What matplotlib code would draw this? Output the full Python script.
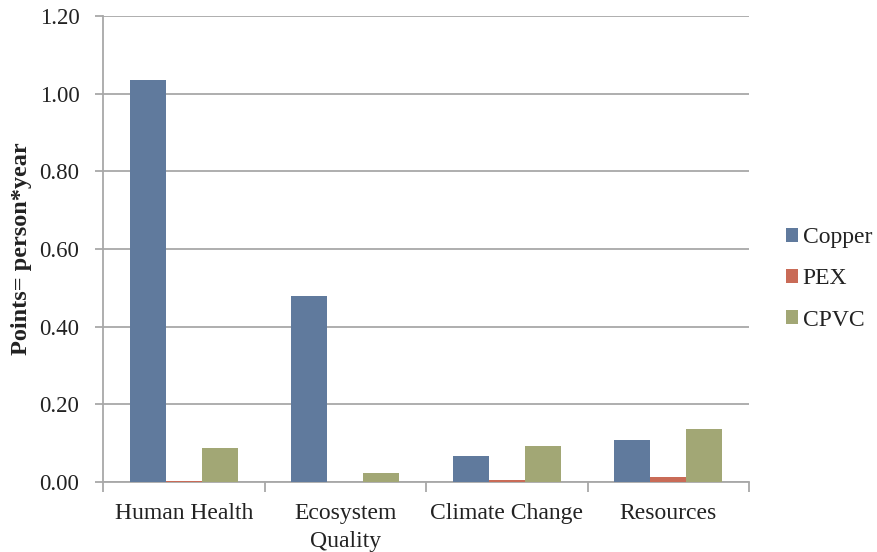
import numpy as np
import matplotlib
matplotlib.use('Agg')
import matplotlib.pyplot as plt

categories = ['Human Health', 'Ecosystem\nQuality', 'Climate Change', 'Resources']
series = ['Copper', 'PEX', 'CPVC']
copper = [1.035, 0.478, 0.067, 0.107]
pex = [0.003, 0.001, 0.005, 0.012]
cpvc = [0.087, 0.023, 0.092, 0.136]
colors = ['#607A9D', '#C96B57', '#A2A775']
yticks = [0.0, 0.2, 0.4, 0.6, 0.8, 1.0, 1.2]

plt.rcParams['font.family'] = ['Liberation Serif', 'DejaVu Serif']
gridc = '#A8A8A8'
txtc = '#222222'

fig = plt.figure(figsize=(8.77, 5.52), dpi=100)
# axes box in pixels: x 103..749, y 16..482
ax = fig.add_axes([103/877, 1-482/552, 646/877, 466/552])

x = np.arange(len(categories))
w = 0.222
for i, (vals, name) in enumerate(zip([copper, pex, cpvc], series)):
    ax.bar(x + (i-1)*w, vals, width=w, color=colors[i], label=name, zorder=3)

ax.set_xlim(-0.5, len(categories)-0.5)
ax.set_ylim(0, 1.2)
ax.set_yticks(yticks)
ax.set_yticklabels(['%.2f' % v for v in yticks], fontsize=16.5, color=txtc)
ax.yaxis.grid(True, color=gridc, linewidth=1.3, zorder=0)
ax.set_axisbelow(True)

# category names centred in each group, ticks on the group boundaries
ax.set_xticks(np.arange(-0.5, len(categories), 1.0))
ax.set_xticklabels([])
ax.set_xticks(x, minor=True)
ax.set_xticklabels(categories, minor=True, fontsize=17, color=txtc, linespacing=1.45)
ax.tick_params(axis='x', which='minor', length=0, pad=15)
ax.tick_params(axis='x', which='major', length=7, color=gridc, width=1.3)
ax.tick_params(axis='y', length=6, color=gridc, width=1.3, pad=11)

for s in ['top', 'right']:
    ax.spines[s].set_visible(False)
for s in ['left', 'bottom']:
    ax.spines[s].set_color(gridc)
    ax.spines[s].set_linewidth(1.3)

ax.set_ylabel('Points= person*year', fontsize=17.5, fontweight='bold', labelpad=5, color=txtc)

leg = fig.legend(loc='center left', bbox_to_anchor=(786/877, 1-279/552), frameon=False,
                 fontsize=17, handlelength=0.5, handleheight=0.5, handletextpad=0.2,
                 labelspacing=0.85, borderaxespad=0, borderpad=0)
for t in leg.get_texts():
    t.set_color(txtc)

fig.savefig('out.png', dpi=100, facecolor='white')
